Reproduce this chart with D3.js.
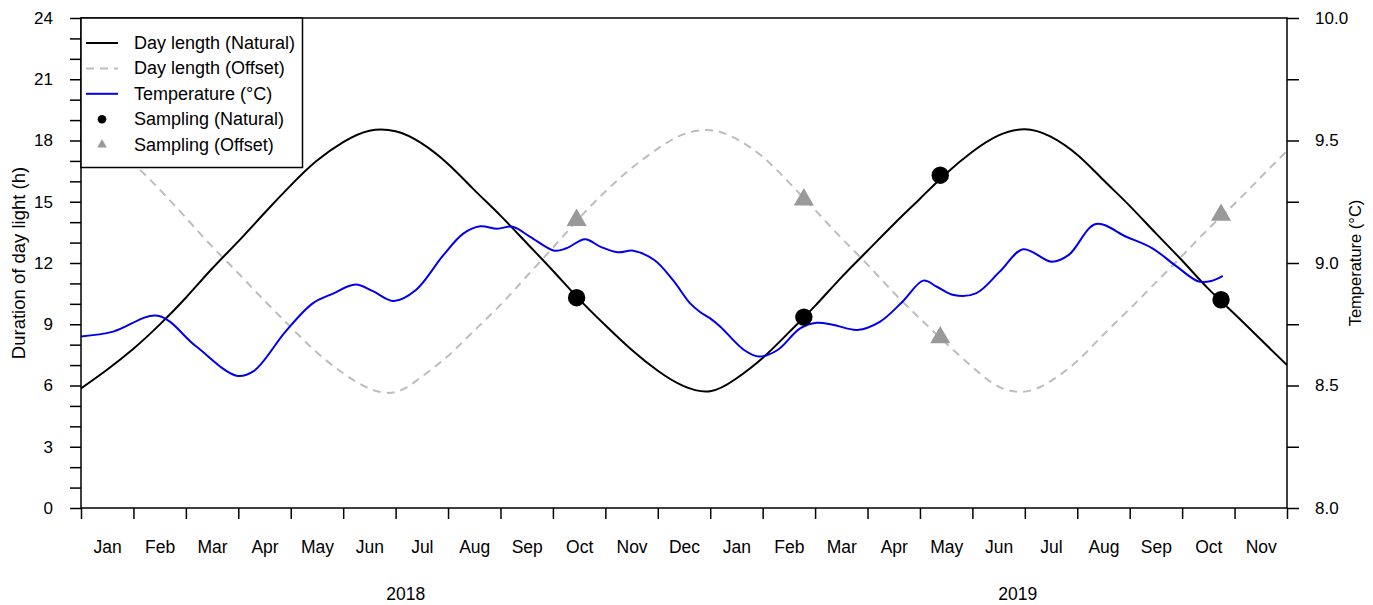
<!DOCTYPE html>
<html>
<head>
<meta charset="utf-8">
<script src="https://cdn.jsdelivr.net/npm/d3@7"></script>
<style>
  body { margin: 0; background: #fff; }
  svg { display: block; }
  text { font-family: "Liberation Sans", Arial, sans-serif; fill: #000; }
</style>
</head>
<body>
<svg id="chart" width="1373" height="605"></svg>
<script>
// ---- data ----
const monthLabels = ["Jan","Feb","Mar","Apr","May","Jun","Jul","Aug","Sep","Oct","Nov","Dec",
                     "Jan","Feb","Mar","Apr","May","Jun","Jul","Aug","Sep","Oct","Nov"];
const yearLabels = ["2018", "2019"];
const yearLabelDates = ["2018-07-07", "2019-06-27"];

// day length (h), sampled on the 1st and 16th of each month
const dayLengthDates = [
  "2018-01-01","2018-01-16","2018-02-01","2018-02-15","2018-03-01","2018-03-16",
  "2018-04-01","2018-04-16","2018-05-01","2018-05-16","2018-06-01","2018-06-16",
  "2018-07-01","2018-07-16","2018-08-01","2018-08-16","2018-09-01","2018-09-16",
  "2018-10-01","2018-10-16","2018-11-01","2018-11-16","2018-12-01","2018-12-16",
  "2019-01-01","2019-01-16","2019-02-01","2019-02-15","2019-03-01","2019-03-16",
  "2019-04-01","2019-04-16","2019-05-01","2019-05-16","2019-06-01","2019-06-16",
  "2019-07-01","2019-07-16","2019-08-01","2019-08-16","2019-09-01","2019-09-16",
  "2019-10-01","2019-10-16","2019-11-01","2019-11-16","2019-12-01"
];
const dayLengthNatural = [
  5.86, 6.75, 7.8, 8.98, 10.3, 11.68, 13.06, 14.45, 15.8, 16.98, 17.92, 18.48,
  18.45, 17.88, 16.85, 15.62, 14.32, 12.98, 11.62, 10.27, 8.95, 7.75, 6.72, 5.98,
  5.72, 6.32, 7.35, 8.6, 9.9, 11.25, 12.6, 13.9, 15.15, 16.35, 17.45, 18.25,
  18.55, 18.2, 17.3, 16.1, 14.8, 13.45, 12.12, 10.78, 9.5, 8.25, 7.0
];
const dayLengthOffset = [
  18.35, 17.8, 16.85, 15.6, 14.22, 12.85, 11.5, 10.15, 8.86, 7.65, 6.6, 5.85,
  5.68, 6.4, 7.45, 8.65, 9.95, 11.35, 12.75, 14.15, 15.5, 16.65, 17.6, 18.3,
  18.5, 18.1, 17.2, 15.95, 14.6, 13.27, 11.92, 10.55, 9.28, 8.1, 6.9, 5.95,
  5.7, 6.2, 7.2, 8.45, 9.75, 11.05, 12.35, 13.63, 14.9, 16.2, 17.5
];

// water temperature (°C)
const tempDates = [
  "2018-01-01","2018-01-20","2018-02-14","2018-03-07","2018-03-31","2018-04-10",
  "2018-04-28","2018-05-14","2018-05-26","2018-06-08","2018-06-18","2018-06-30",
  "2018-07-13","2018-07-29","2018-08-10","2018-08-20","2018-08-30","2018-09-08",
  "2018-09-18","2018-10-02","2018-10-09","2018-10-20","2018-10-29","2018-11-08",
  "2018-11-17","2018-11-29","2018-12-10","2018-12-20","2018-12-26","2019-01-01",
  "2019-01-07","2019-01-21","2019-01-30","2019-02-09","2019-02-21","2019-03-02",
  "2019-03-12","2019-03-26","2019-04-08","2019-04-21","2019-05-03","2019-05-11",
  "2019-05-21","2019-06-03","2019-06-17","2019-06-30","2019-07-17","2019-07-27",
  "2019-08-12","2019-08-30","2019-09-14","2019-09-28","2019-10-11","2019-10-19",
  "2019-10-25"
];
const temperature = [
  8.70, 8.72, 8.785, 8.66, 8.54, 8.56,
  8.72, 8.835, 8.875, 8.912, 8.885, 8.845,
  8.89, 9.03, 9.12, 9.15, 9.14, 9.148,
  9.107, 9.05, 9.06, 9.097, 9.067, 9.044,
  9.05, 9.012, 8.93, 8.836, 8.80, 8.774,
  8.74, 8.645, 8.618, 8.645, 8.733, 8.756,
  8.747, 8.727, 8.76, 8.842, 8.928, 8.903,
  8.869, 8.876, 8.967, 9.056, 9.005, 9.033,
  9.159, 9.107, 9.06, 8.985, 8.924, 8.928,
  8.947
];

// sampling events
const samplingDates = ["2018-10-15", "2019-02-23", "2019-05-13", "2019-10-24"];
const samplingNatural = [10.3, 9.35, 16.3, 10.2];
const samplingOffset = [14.1, 15.1, 8.35, 14.35];

const dayTicks = d3.range(0, 25, 1);
const tempTicks = [8, 8.25, 8.5, 8.75, 9, 9.25, 9.5, 9.75, 10];

// ---- helpers ----
// fractional month index counted from Jan 2018 (each month gets equal width)
function monthPos(s) {
  const [y, m, d] = s.split("-").map(Number);
  const dim = new Date(Date.UTC(y, m, 0)).getUTCDate();
  return (y - 2018) * 12 + (m - 1) + (d - 1) / dim;
}

// ---- layout ----
const svg = d3.select("#chart");
const L = 81, R = 1287, T = 18, B = 508;

const x = d3.scaleLinear().domain([0, 23]).range([L, R]);
const yL = d3.scaleLinear().domain([0, 24]).range([B, T]);
const yR = d3.scaleLinear().domain([8, 10]).range([B, T]);

svg.append("defs").append("clipPath").attr("id", "plot")
  .append("rect").attr("x", L).attr("y", T).attr("width", R - L).attr("height", B - T);

// ---- axes ----
const styleAxis = g => {
  g.select(".domain").remove();
  g.selectAll(".tick line").attr("stroke", "#000").attr("stroke-width", 1.5);
  g.selectAll("text").attr("fill", "#000").style("font-size", "17px")
   .style("font-family", '"Liberation Sans", Arial, sans-serif');
};

svg.append("g").attr("transform", `translate(${L},0)`)
  .call(d3.axisLeft(yL).tickValues(dayTicks).tickSize(11).tickPadding(17)
        .tickFormat(d => d % 3 === 0 ? d : ""))
  .call(styleAxis);

svg.append("g").attr("transform", `translate(${R},0)`)
  .call(d3.axisRight(yR).tickValues(tempTicks).tickSize(12).tickPadding(16)
        .tickFormat(d => Math.round(d * 100) % 50 === 0 ? d.toFixed(1) : ""))
  .call(styleAxis);

svg.append("g").attr("transform", `translate(0,${B})`)
  .call(d3.axisBottom(x).tickValues(d3.range(0, 24)).tickSize(11).tickFormat(""))
  .call(styleAxis);

svg.append("g").attr("transform", `translate(0,${B})`)
  .call(d3.axisBottom(x).tickValues(monthLabels.map((_, i) => i + 0.5))
        .tickSize(0).tickPadding(33).tickFormat((d, i) => monthLabels[i]))
  .call(styleAxis)
  .call(g => g.selectAll("text").style("font-size", "17.5px"));

svg.append("g").selectAll("text").data(yearLabels).join("text")
  .attr("x", (d, i) => x(monthPos(yearLabelDates[i])))
  .attr("y", 600)
  .attr("text-anchor", "middle")
  .style("font-size", "17.5px")
  .text(d => d);

svg.append("text")
  .attr("transform", `translate(18,${(T + B) / 2}) rotate(-90)`)
  .attr("text-anchor", "middle").attr("dominant-baseline", "central")
  .style("font-size", "18.5px")
  .text("Duration of day light (h)");

svg.append("text")
  .attr("transform", `translate(1355,${(T + B) / 2}) rotate(-90)`)
  .attr("text-anchor", "middle").attr("dominant-baseline", "central")
  .style("font-size", "16.5px")
  .text("Temperature (°C)");

// ---- series ----
const plot = svg.append("g").attr("clip-path", "url(#plot)");

const dayLine = vals => d3.line()
  .x((d, i) => x(monthPos(dayLengthDates[i])))
  .y(d => yL(d))
  .curve(d3.curveNatural)(vals);

plot.append("path").attr("d", dayLine(dayLengthOffset))
  .attr("fill", "none").attr("stroke", "#bdbdbd").attr("stroke-width", 2)
  .attr("stroke-dasharray", "8,6");

plot.append("path").attr("d", dayLine(dayLengthNatural))
  .attr("fill", "none").attr("stroke", "#000").attr("stroke-width", 2);

const tempLine = d3.line()
  .x((d, i) => x(monthPos(tempDates[i])))
  .y(d => yR(d))
  .curve(d3.curveCatmullRom.alpha(0.5));

plot.append("path").attr("d", tempLine(temperature))
  .attr("fill", "none").attr("stroke", "#0000ee").attr("stroke-width", 2);

svg.append("g").selectAll("circle").data(samplingNatural).join("circle")
  .attr("cx", (d, i) => x(monthPos(samplingDates[i])))
  .attr("cy", d => yL(d))
  .attr("r", 8.7).attr("fill", "#000");

const tri = d3.symbol().type(d3.symbolTriangle).size(175);
svg.append("g").selectAll("path").data(samplingOffset).join("path")
  .attr("d", tri)
  .attr("transform", (d, i) => `translate(${x(monthPos(samplingDates[i]))},${yL(d)})`)
  .attr("fill", "#999999");

// ---- frame ----
svg.append("rect").attr("x", L).attr("y", T).attr("width", R - L).attr("height", B - T)
  .attr("fill", "none").attr("stroke", "#000").attr("stroke-width", 1.5);

// ---- legend ----
const legend = svg.append("g");
legend.append("rect").attr("x", L).attr("y", T).attr("width", 302.5 - L).attr("height", 167.5 - T)
  .attr("fill", "#fff").attr("stroke", "#000").attr("stroke-width", 1.5);

const legendItems = [
  { label: "Day length (Natural)", kind: "line", color: "#000", dash: null },
  { label: "Day length (Offset)", kind: "line", color: "#bdbdbd", dash: "8,6" },
  { label: "Temperature (°C)", kind: "line", color: "#0000ee", dash: null },
  { label: "Sampling (Natural)", kind: "circle", color: "#000" },
  { label: "Sampling (Offset)", kind: "triangle", color: "#999999" }
];
const rowY = i => 43 + i * 25.4;

legendItems.forEach((it, i) => {
  const cy = rowY(i);
  if (it.kind === "line") {
    legend.append("line").attr("x1", 86).attr("x2", 118).attr("y1", cy).attr("y2", cy)
      .attr("stroke", it.color).attr("stroke-width", 2)
      .attr("stroke-dasharray", it.dash);
  } else if (it.kind === "circle") {
    legend.append("circle").attr("cx", 102).attr("cy", cy).attr("r", 4.3).attr("fill", it.color);
  } else {
    legend.append("path").attr("d", d3.symbol().type(d3.symbolTriangle).size(40)())
      .attr("transform", `translate(102,${cy})`).attr("fill", it.color);
  }
  legend.append("text").attr("x", 134).attr("y", cy)
    .attr("dominant-baseline", "central")
    .style("font-size", "18px")
    .text(it.label);
});
</script>
</body>
</html>
